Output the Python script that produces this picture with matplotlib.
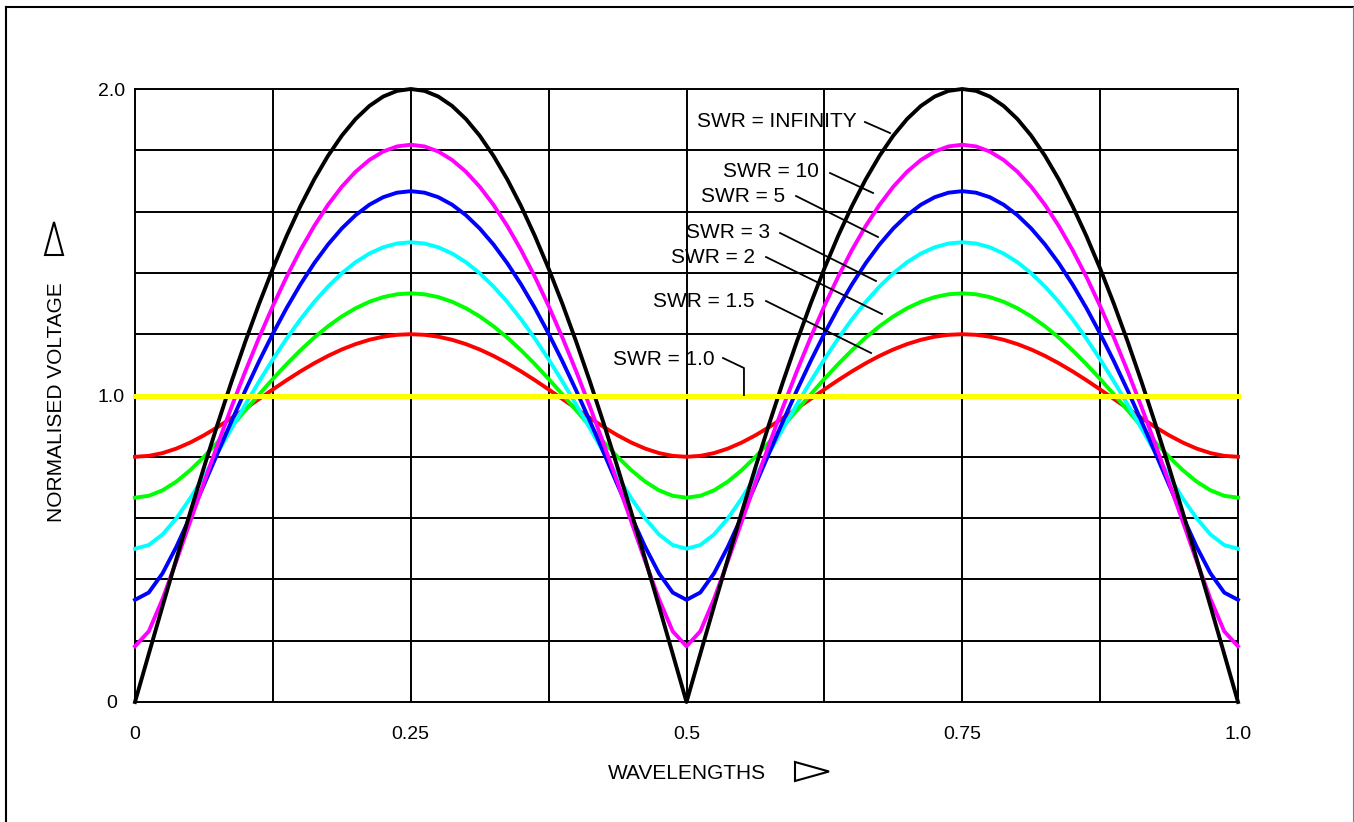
import matplotlib
matplotlib.use("Agg")
import matplotlib.pyplot as plt
from matplotlib.lines import Line2D
from matplotlib.patches import Polygon

plt.rcParams['font.family'] = ['Liberation Sans', 'DejaVu Sans']

# ---------------- data ----------------
wavelengths = [
    0.0, 0.0125, 0.025, 0.0375, 0.05, 0.0625, 0.075, 0.0875, 0.1, 0.1125, 0.125,
    0.1375, 0.15, 0.1625, 0.175, 0.1875, 0.2, 0.2125, 0.225, 0.2375, 0.25,
    0.2625, 0.275, 0.2875, 0.3, 0.3125, 0.325, 0.3375, 0.35, 0.3625, 0.375,
    0.3875, 0.4, 0.4125, 0.425, 0.4375, 0.45, 0.4625, 0.475, 0.4875, 0.5,
    0.5125, 0.525, 0.5375, 0.55, 0.5625, 0.575, 0.5875, 0.6, 0.6125, 0.625,
    0.6375, 0.65, 0.6625, 0.675, 0.6875, 0.7, 0.7125, 0.725, 0.7375, 0.75,
    0.7625, 0.775, 0.7875, 0.8, 0.8125, 0.825, 0.8375, 0.85, 0.8625, 0.875,
    0.8875, 0.9, 0.9125, 0.925, 0.9375, 0.95, 0.9625, 0.975, 0.9875, 1.0]

v_swr_1_5 = [
    0.8, 0.80307, 0.81215, 0.82680, 0.84640, 0.87014, 0.89715, 0.92650, 0.95728, 0.98865,
    1.01980, 1.05004, 1.07871, 1.10526, 1.12921, 1.15015, 1.16774, 1.18170, 1.19182, 1.19795, 1.2,
    1.19795, 1.19182, 1.18170, 1.16774, 1.15015, 1.12921, 1.10526, 1.07871, 1.05004, 1.01980,
    0.98865, 0.95728, 0.92650, 0.89715, 0.87014, 0.84640, 0.82680, 0.81215, 0.80307, 0.8,
    0.80307, 0.81215, 0.82680, 0.84640, 0.87014, 0.89715, 0.92650, 0.95728, 0.98865, 1.01980,
    1.05004, 1.07871, 1.10526, 1.12921, 1.15015, 1.16774, 1.18170, 1.19182, 1.19795, 1.2,
    1.19795, 1.19182, 1.18170, 1.16774, 1.15015, 1.12921, 1.10526, 1.07871, 1.05004, 1.01980,
    0.98865, 0.95728, 0.92650, 0.89715, 0.87014, 0.84640, 0.82680, 0.81215, 0.80307, 0.8]

v_swr_2 = [
    0.66667, 0.67279, 0.69071, 0.71910, 0.75615, 0.79982, 0.84809, 0.89914, 0.95137, 1.00341,
    1.05409, 1.10245, 1.14766, 1.18902, 1.22596, 1.25798, 1.28470, 1.30580, 1.32104, 1.33025, 1.33333,
    1.33025, 1.32104, 1.30580, 1.28470, 1.25798, 1.22596, 1.18902, 1.14766, 1.10245, 1.05409,
    1.00341, 0.95137, 0.89914, 0.84809, 0.79982, 0.75615, 0.71910, 0.69071, 0.67279, 0.66667,
    0.67279, 0.69071, 0.71910, 0.75615, 0.79982, 0.84809, 0.89914, 0.95137, 1.00341, 1.05409,
    1.10245, 1.14766, 1.18902, 1.22596, 1.25798, 1.28470, 1.30580, 1.32104, 1.33025, 1.33333,
    1.33025, 1.32104, 1.30580, 1.28470, 1.25798, 1.22596, 1.18902, 1.14766, 1.10245, 1.05409,
    1.00341, 0.95137, 0.89914, 0.84809, 0.79982, 0.75615, 0.71910, 0.69071, 0.67279, 0.66667]

v_swr_3 = [
    0.5, 0.51216, 0.54675, 0.59916, 0.66407, 0.73681, 0.81376, 0.89219, 0.97004, 1.04574,
    1.11803, 1.18593, 1.24861, 1.30537, 1.35565, 1.39897, 1.43493, 1.46322, 1.48360, 1.49589, 1.5,
    1.49589, 1.48360, 1.46322, 1.43493, 1.39897, 1.35565, 1.30537, 1.24861, 1.18593, 1.11803,
    1.04574, 0.97004, 0.89219, 0.81376, 0.73681, 0.66407, 0.59916, 0.54675, 0.51216, 0.5,
    0.51216, 0.54675, 0.59916, 0.66407, 0.73681, 0.81376, 0.89219, 0.97004, 1.04574, 1.11803,
    1.18593, 1.24861, 1.30537, 1.35565, 1.39897, 1.43493, 1.46322, 1.48360, 1.49589, 1.5,
    1.49589, 1.48360, 1.46322, 1.43493, 1.39897, 1.35565, 1.30537, 1.24861, 1.18593, 1.11803,
    1.04574, 0.97004, 0.89219, 0.81376, 0.73681, 0.66407, 0.59916, 0.54675, 0.51216, 0.5]

v_swr_5 = [
    0.33333, 0.35710, 0.41995, 0.50639, 0.60477, 0.70826, 0.81285, 0.91604, 1.01608, 1.11169,
    1.20185, 1.28570, 1.36252, 1.43170, 1.49270, 1.54507, 1.58843, 1.62248, 1.64697, 1.66173, 1.66667,
    1.66173, 1.64697, 1.62248, 1.58843, 1.54507, 1.49270, 1.43170, 1.36252, 1.28570, 1.20185,
    1.11169, 1.01608, 0.91604, 0.81285, 0.70826, 0.60477, 0.50639, 0.41995, 0.35710, 0.33333,
    0.35710, 0.41995, 0.50639, 0.60477, 0.70826, 0.81285, 0.91604, 1.01608, 1.11169, 1.20185,
    1.28570, 1.36252, 1.43170, 1.49270, 1.54507, 1.58843, 1.62248, 1.64697, 1.66173, 1.66667,
    1.66173, 1.64697, 1.62248, 1.58843, 1.54507, 1.49270, 1.43170, 1.36252, 1.28570, 1.20185,
    1.11169, 1.01608, 0.91604, 0.81285, 0.70826, 0.60477, 0.50639, 0.41995, 0.35710, 0.33333]

v_swr_10 = [
    0.18182, 0.23065, 0.33636, 0.45979, 0.58785, 0.71577, 0.84118, 0.96256, 1.07878, 1.18889,
    1.29206, 1.38759, 1.47482, 1.55316, 1.62212, 1.68122, 1.73011, 1.76846, 1.79602, 1.81263, 1.81818,
    1.81263, 1.79602, 1.76846, 1.73011, 1.68122, 1.62212, 1.55316, 1.47482, 1.38759, 1.29206,
    1.18889, 1.07878, 0.96256, 0.84118, 0.71577, 0.58785, 0.45979, 0.33636, 0.23065, 0.18182,
    0.23065, 0.33636, 0.45979, 0.58785, 0.71577, 0.84118, 0.96256, 1.07878, 1.18889, 1.29206,
    1.38759, 1.47482, 1.55316, 1.62212, 1.68122, 1.73011, 1.76846, 1.79602, 1.81263, 1.81818,
    1.81263, 1.79602, 1.76846, 1.73011, 1.68122, 1.62212, 1.55316, 1.47482, 1.38759, 1.29206,
    1.18889, 1.07878, 0.96256, 0.84118, 0.71577, 0.58785, 0.45979, 0.33636, 0.23065, 0.18182]

v_swr_inf = [
    0.0, 0.15692, 0.31287, 0.46689, 0.61803, 0.76537, 0.90798, 1.04500, 1.17557, 1.29890,
    1.41421, 1.52081, 1.61803, 1.70528, 1.78201, 1.84776, 1.90211, 1.94474, 1.97538, 1.99383, 2.0,
    1.99383, 1.97538, 1.94474, 1.90211, 1.84776, 1.78201, 1.70528, 1.61803, 1.52081, 1.41421,
    1.29890, 1.17557, 1.04500, 0.90798, 0.76537, 0.61803, 0.46689, 0.31287, 0.15692, 0.0,
    0.15692, 0.31287, 0.46689, 0.61803, 0.76537, 0.90798, 1.04500, 1.17557, 1.29890, 1.41421,
    1.52081, 1.61803, 1.70528, 1.78201, 1.84776, 1.90211, 1.94474, 1.97538, 1.99383, 2.0,
    1.99383, 1.97538, 1.94474, 1.90211, 1.84776, 1.78201, 1.70528, 1.61803, 1.52081, 1.41421,
    1.29890, 1.17557, 1.04500, 0.90798, 0.76537, 0.61803, 0.46689, 0.31287, 0.15692, 0.0]

flat_x = [0.0, 1.0]
v_swr_1_0 = [1.0, 1.0]

x_ticks = [0, 0.25, 0.5, 0.75, 1.0]
x_tick_labels = ['0', '0.25', '0.5', '0.75', '1.0']
y_ticks = [0, 1.0, 2.0]
y_tick_labels = ['0', '1.0', '2.0']
x_grid = [0.125, 0.25, 0.375, 0.5, 0.625, 0.75, 0.875]
y_grid = [0.2, 0.4, 0.6, 0.8, 1.0, 1.2, 1.4, 1.6, 1.8]

series = [
    ('SWR = 1.5', v_swr_1_5, '#ff0000'),
    ('SWR = 2', v_swr_2, '#00ff00'),
    ('SWR = 3', v_swr_3, '#00ffff'),
    ('SWR = 5', v_swr_5, '#0000ff'),
    ('SWR = 10', v_swr_10, '#ff00ff'),
    ('SWR = INFINITY', v_swr_inf, '#000000'),
]

# label placement: (text, text x, text baseline y, leader line xs, leader line ys)
labels = [
    ('SWR = INFINITY', 0.6546, 1.8760, [0.6618, 0.6845], [1.8923, 1.8564]),
    ('SWR = 10', 0.6201, 1.7129, [0.6301, 0.6691], [1.7259, 1.6607]),
    ('SWR = 5', 0.5893, 1.6313, [0.5993, 0.6736], [1.6509, 1.5171]),
    ('SWR = 3', 0.5757, 1.5139, [0.5848, 0.6718], [1.5302, 1.3736]),
    ('SWR = 2', 0.5621, 1.4323, [0.5721, 0.6772], [1.4519, 1.2659]),
    ('SWR = 1.5', 0.5621, 1.2887, [0.5721, 0.6673], [1.3083, 1.1387]),
    ('SWR = 1.0', 0.5258, 1.0995, [0.5331, 0.5521, 0.5521], [1.1223, 1.0897, 1.0016]),
]

# ---------------- figure ----------------
W, H = 1354, 822
fig = plt.figure(figsize=(W / 100, H / 100), dpi=100)
ax = fig.add_axes([135 / W, 1 - 702 / H, (1238 - 135) / W, (702 - 89) / H])
ax.set_xlim(0, 1)
ax.set_ylim(0, 2)

for gx in x_grid:
    ax.axvline(gx, color='black', lw=1.4, zorder=1)
for gy in y_grid:
    ax.axhline(gy, color='black', lw=1.4, zorder=1)
for s in ax.spines.values():
    s.set_linewidth(1.4)
    s.set_zorder(1)

for i, (name, vals, col) in enumerate(series):
    ax.plot(wavelengths, vals, color=col, lw=2.8, zorder=3 + i, clip_on=False,
            solid_joinstyle='round')

ax.plot(flat_x, v_swr_1_0, color='#ffff00', lw=3.6, zorder=10, clip_on=False)

for txt, tx, ty, lx, ly in labels:
    ax.text(tx, ty, txt, ha='right', va='baseline', fontsize=15, zorder=12)
    ax.plot(lx, ly, color='black', lw=1.3, zorder=12, clip_on=False)

ax.set_xticks(x_ticks)
ax.set_xticklabels(x_tick_labels)
ax.set_yticks(y_ticks)
ax.set_yticklabels(y_tick_labels)
ax.tick_params(axis='both', length=0, labelsize=14, pad=17)
for lab in ax.get_yticklabels():
    lab.set_ha('center')

# axis titles with arrow triangles
fig.text(686.5 / W, 1 - 779 / H, 'WAVELENGTHS', ha='center', va='baseline', fontsize=15)
fig.text(62 / W, 1 - 402 / H, 'NORMALISED VOLTAGE', ha='center', va='baseline',
         rotation=90, rotation_mode='anchor', fontsize=15)

tri_x = Polygon([[795 / W, 1 - 762 / H], [795 / W, 1 - 781 / H], [829 / W, 1 - 771.5 / H]],
                closed=True, fill=False, edgecolor='black', lw=1.5, transform=fig.transFigure)
tri_y = Polygon([[45 / W, 1 - 255 / H], [63 / W, 1 - 255 / H], [54 / W, 1 - 222 / H]],
                closed=True, fill=False, edgecolor='black', lw=1.5, transform=fig.transFigure)
fig.add_artist(tri_x)
fig.add_artist(tri_y)

# outer frame
fig.add_artist(Line2D([6 / W, 6 / W], [0, 1 - 7 / H], color='black', lw=1.5,
                      transform=fig.transFigure))
fig.add_artist(Line2D([6 / W, 1353 / W], [1 - 7 / H, 1 - 7 / H], color='black', lw=1.5,
                      transform=fig.transFigure))
fig.add_artist(Line2D([1353 / W, 1353 / W], [0, 1 - 7 / H], color='#808080', lw=0.8,
                      transform=fig.transFigure))

fig.savefig('out.png', dpi=100)
